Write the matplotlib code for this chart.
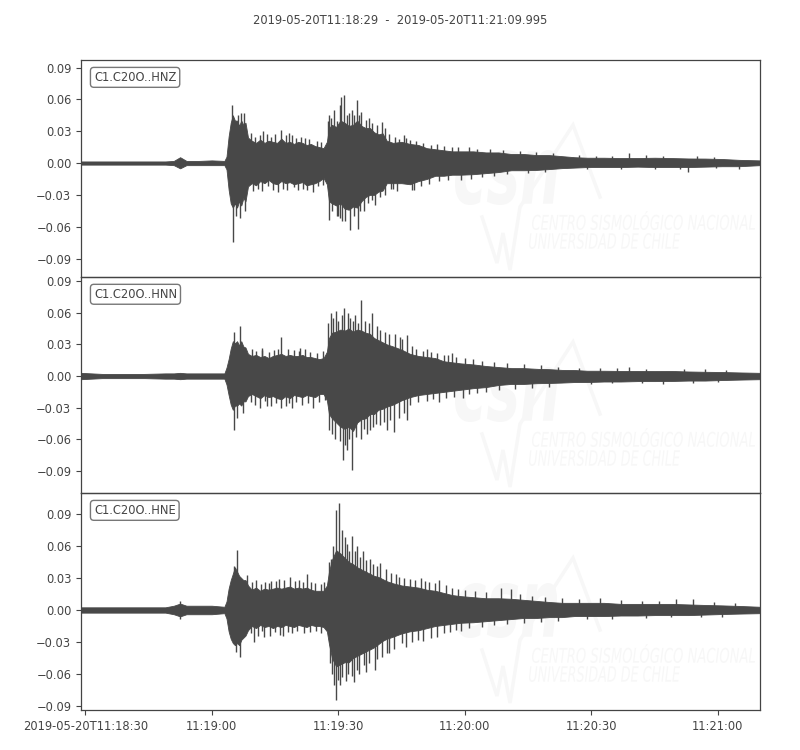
import numpy as np
import matplotlib
matplotlib.use("Agg")
import matplotlib.pyplot as plt
from matplotlib.textpath import TextPath
from matplotlib.font_manager import FontProperties
from matplotlib.patches import PathPatch
from matplotlib.path import Path

# ---------------- data ----------------
title = "2019-05-20T11:18:29  -  2019-05-20T11:21:09.995"
channels = ["C1.C20O..HNZ", "C1.C20O..HNN", "C1.C20O..HNE"]
duration = 160.995  # seconds after 11:18:29
xtick_secs = [1, 31, 61, 91, 121, 151]
xtick_labels = ["2019-05-20T11:18:30", "11:19:00", "11:19:30",
                "11:20:00", "11:20:30", "11:21:00"]
ytick_vals = [-0.09, -0.06, -0.03, 0.0, 0.03, 0.06, 0.09]
ylims = [(-0.1074, 0.0971), (-0.1108, 0.0938), (-0.0938, 0.1097)]

# envelope sample times (s after 11:18:29)
env_t = [0, 5, 10, 15, 20, 22, 23.5, 25, 28, 31, 34,
         34.5, 35, 35.5, 36, 36.5, 37, 37.5, 38, 38.5, 39, 39.6,
         40.5, 41.5, 42.5, 43.5, 44.5, 45.5, 46.5, 47.5, 48.5, 49.5,
         50.5, 51.5, 52.5, 53.5, 54.5, 55.5, 56.5, 57.5,
         58.3, 58.8,
         59.5, 60.5, 61.5, 62.5, 63.5, 64.5, 65.5, 66.5, 67.5, 68.5,
         69.5, 70.5, 71.5, 72.5,
         74, 76, 78, 80, 82, 84, 86, 88, 90,
         93, 96, 99, 102, 105, 108, 111, 114, 117, 120,
         124, 128, 132, 136, 140, 144, 148, 152, 156,
         161]

hnz_up = [0.0015, 0.0015, 0.0015, 0.0015, 0.0015, 0.002, 0.0055, 0.002, 0.002, 0.0025, 0.002,
          0.006, 0.025, 0.038, 0.045, 0.04, 0.04, 0.035, 0.04, 0.036, 0.038, 0.024,
          0.021, 0.019, 0.022, 0.019, 0.021, 0.02, 0.019, 0.023, 0.019, 0.02,
          0.018, 0.02, 0.019, 0.017, 0.018, 0.016, 0.015, 0.014,
          0.02, 0.033,
          0.036, 0.034, 0.04, 0.038, 0.035, 0.036, 0.04, 0.035, 0.033, 0.033,
          0.029, 0.027, 0.028, 0.021,
          0.019, 0.02, 0.018, 0.017, 0.014, 0.013, 0.012, 0.011, 0.011,
          0.011, 0.01, 0.01, 0.0085, 0.0085, 0.0075, 0.0075, 0.0065, 0.0055, 0.005,
          0.005, 0.0047, 0.0047, 0.005, 0.0047, 0.0043, 0.0042, 0.0038, 0.003,
          0.0025]
hnz_lo = [-0.0015, -0.0015, -0.0015, -0.0015, -0.0015, -0.002, -0.005, -0.002, -0.002, -0.002, -0.002,
          -0.006, -0.025, -0.038, -0.042, -0.038, -0.042, -0.036, -0.04, -0.033, -0.036, -0.022,
          -0.019, -0.021, -0.017, -0.019, -0.016, -0.019, -0.02, -0.017, -0.019, -0.018,
          -0.02, -0.019, -0.018, -0.021, -0.02, -0.019, -0.017, -0.014,
          -0.02, -0.036,
          -0.038, -0.04, -0.038, -0.043, -0.044, -0.041, -0.042, -0.036, -0.032, -0.03,
          -0.03, -0.027, -0.026, -0.019,
          -0.019, -0.019, -0.02, -0.017, -0.015, -0.012, -0.012, -0.011, -0.011,
          -0.0105, -0.0095, -0.0085, -0.0068, -0.0068, -0.0065, -0.0057, -0.0048, -0.0043, -0.0038,
          -0.0038, -0.0038, -0.0034, -0.0038, -0.0038, -0.0038, -0.0034, -0.003, -0.003,
          -0.002]

hnn_up = [0.003, 0.002, 0.002, 0.002, 0.0025, 0.0025, 0.003, 0.0025, 0.0025, 0.0025, 0.0025,
          0.008, 0.016, 0.026, 0.033, 0.031, 0.033, 0.029, 0.033, 0.028, 0.027, 0.021,
          0.019, 0.02, 0.018, 0.019, 0.017, 0.019, 0.02, 0.021, 0.019, 0.02,
          0.019, 0.019, 0.02, 0.018, 0.018, 0.017, 0.016, 0.017,
          0.023, 0.036,
          0.041, 0.042, 0.044, 0.043, 0.045, 0.042, 0.044, 0.043, 0.041, 0.04,
          0.036, 0.034, 0.032, 0.03,
          0.028, 0.025, 0.021, 0.019, 0.018, 0.017, 0.014, 0.013, 0.012,
          0.011, 0.0095, 0.0085, 0.0075, 0.0075, 0.0068, 0.0065, 0.0058, 0.0057, 0.005,
          0.005, 0.0048, 0.0048, 0.0047, 0.0048, 0.0043, 0.004, 0.0038, 0.0034,
          0.003]
hnn_lo = [-0.003, -0.002, -0.002, -0.002, -0.0025, -0.0025, -0.003, -0.0025, -0.0025, -0.0025, -0.0025,
          -0.008, -0.018, -0.027, -0.032, -0.028, -0.028, -0.026, -0.028, -0.024, -0.024, -0.019,
          -0.017, -0.019, -0.021, -0.018, -0.02, -0.019, -0.021, -0.022, -0.019, -0.021,
          -0.018, -0.019, -0.02, -0.018, -0.019, -0.02, -0.017, -0.017,
          -0.023, -0.036,
          -0.04, -0.044, -0.048, -0.05, -0.048, -0.052, -0.044, -0.041, -0.04, -0.036,
          -0.036, -0.032, -0.031, -0.029,
          -0.027, -0.023, -0.02, -0.018, -0.017, -0.016, -0.015, -0.014, -0.013,
          -0.0115, -0.0105, -0.0085, -0.0075, -0.0075, -0.0068, -0.0066, -0.0062, -0.0057, -0.0057,
          -0.0052, -0.0052, -0.0048, -0.0048, -0.0047, -0.0043, -0.0043, -0.0038, -0.0034,
          -0.003]

hne_up = [0.0025, 0.0025, 0.0025, 0.0025, 0.0025, 0.004, 0.006, 0.004, 0.004, 0.004, 0.003,
          0.008, 0.02, 0.028, 0.034, 0.04, 0.036, 0.032, 0.03, 0.028, 0.028, 0.023,
          0.019, 0.021, 0.018, 0.02, 0.019, 0.02, 0.021, 0.02, 0.021, 0.022,
          0.02, 0.021, 0.02, 0.021, 0.019, 0.018, 0.018, 0.018,
          0.023, 0.036,
          0.047, 0.056, 0.053, 0.049, 0.045, 0.043, 0.04, 0.038, 0.036, 0.034,
          0.032, 0.031, 0.029, 0.027,
          0.025, 0.023, 0.022, 0.021, 0.019, 0.018, 0.016, 0.014, 0.013,
          0.012, 0.011, 0.011, 0.0105, 0.0095, 0.0085, 0.0075, 0.0067, 0.0067, 0.0067,
          0.0067, 0.0057, 0.0057, 0.0057, 0.0057, 0.0052, 0.0047, 0.0043, 0.0038,
          0.003]
hne_lo = [-0.0025, -0.0025, -0.0025, -0.0025, -0.0025, -0.004, -0.006, -0.004, -0.004, -0.004, -0.003,
          -0.008, -0.02, -0.027, -0.031, -0.033, -0.031, -0.033, -0.028, -0.026, -0.024, -0.019,
          -0.015, -0.017, -0.014, -0.016, -0.015, -0.017, -0.015, -0.016, -0.014, -0.015,
          -0.016, -0.014, -0.015, -0.016, -0.014, -0.015, -0.015, -0.016,
          -0.02, -0.032,
          -0.045, -0.053, -0.051, -0.049, -0.049, -0.045, -0.043, -0.041, -0.039, -0.037,
          -0.035, -0.032, -0.029, -0.027,
          -0.025, -0.022, -0.02, -0.019, -0.017, -0.015, -0.014, -0.013, -0.012,
          -0.0115, -0.0105, -0.0095, -0.0085, -0.0075, -0.0075, -0.0067, -0.0067, -0.0057, -0.0057,
          -0.0057, -0.0052, -0.0052, -0.0048, -0.0048, -0.0048, -0.0043, -0.0038, -0.0034,
          -0.003]

# individual peaks (time, amplitude)
hnz_spk_t = [35.9, 36.0, 37.3, 38.0, 38.6, 36.8, 37.8, 38.9, 44.0, 47.5, 50.0,
             45.5, 51.5, 54.9, 58.9, 58.9, 60.0, 61.0, 61.7, 62.0, 62.3, 63.0,
             63.9, 64.3, 65.5, 65.6, 66.5, 67.0, 68.4, 69.7, 71.4, 74.0, 77.0,
             79.0, 130.0, 144.0, 156.0,
             40.3, 41.2, 42.4, 43.2, 45.0, 46.0, 48.6, 49.4, 51.0, 52.2, 53.0, 54.0, 56.0, 57.0,
             40.8, 42.0, 43.0, 44.4, 46.6, 47.8, 48.8, 50.4, 52.6, 53.6, 56.2, 57.4,
             58.6, 59.3, 60.6, 61.3, 63.6, 64.8, 66.0, 67.6, 69.0, 70.2, 72.0,
             59.5, 60.8, 61.5, 62.6, 64.8, 66.2, 68.0, 69.0, 70.8, 72.0,
             73.0, 74.5, 75.5, 76.5, 78.0, 79.5, 81.0, 83.0, 84.5, 86.0, 88.0, 89.5,
             92.0, 94.0, 97.0, 100.0, 104.0, 108.0, 112.0,
             73.5, 75.0, 78.5, 80.5, 82.5, 85.0, 87.0, 90.0, 92.5, 95.0, 98.0, 101.0, 106.0, 110.0,
             118.0, 122.0, 126.0, 134.0, 138.0, 146.0, 150.0,
             120.0, 128.0, 136.0, 142.0, 150.5]
hnz_spk_v = [0.0547, -0.074, 0.045, 0.047, 0.047, -0.05, -0.052, -0.045, 0.027, 0.031, 0.026,
             -0.025, -0.025, -0.027, 0.045, -0.054, 0.05, -0.05, 0.0625, -0.055, 0.064, 0.045,
             -0.063, 0.05, 0.059, -0.062, 0.048, -0.045, 0.042, -0.04, 0.039, -0.024, 0.024,
             -0.025, 0.009, -0.008, -0.006,
             0.028, 0.025, 0.026, 0.03, 0.025, 0.027, 0.026, 0.028, 0.024, 0.025, 0.024, 0.023, 0.021, 0.02,
             -0.026, -0.024, -0.026, -0.022, -0.027, -0.024, -0.025, -0.023, -0.024, -0.025, -0.022, -0.021,
             0.04, 0.042, 0.04, 0.055, 0.047, 0.045, 0.045, 0.041, 0.038, 0.036, 0.033,
             -0.045, -0.05, -0.052, -0.055, -0.05, -0.045, -0.038, -0.035, -0.032, -0.03,
             0.027, 0.025, 0.023, 0.026, 0.022, 0.021, 0.019, 0.017, 0.018, 0.016, 0.015, 0.015,
             0.015, 0.013, 0.013, 0.012, 0.011, 0.01, 0.009,
             -0.024, -0.026, -0.025, -0.022, -0.02, -0.017, -0.016, -0.016, -0.015, -0.013, -0.012, -0.01, -0.009, -0.008,
             0.008, 0.007, 0.007, 0.0075, 0.007, 0.0065, 0.006,
             -0.006, -0.006, -0.006, -0.006, -0.005]

hnn_spk_t = [36.3, 37.8, 36.2, 37.0, 38.3, 43.0, 47.5, 52.0, 44.0, 47.5, 50.0, 55.0,
             59.3, 60.5, 62.3, 63.2, 65.0, 66.4, 69.0, 71.0, 72.0, 74.5, 77.4,
             58.9, 62.1, 63.0, 64.3, 66.4, 68.6, 70.0, 72.5, 74.1, 77.4,
             82.0, 88.0, 85.0, 90.5, 130.0, 138.0,
             40.5, 41.6, 42.8, 44.5, 45.8, 46.8, 49.0, 50.6, 51.6, 53.0, 54.2, 56.0, 57.3,
             40.2, 41.3, 42.5, 43.6, 45.0, 46.3, 48.5, 49.4, 51.0, 52.5, 53.8, 56.5, 57.8,
             58.6, 59.8, 61.0, 61.8, 63.8, 64.6, 65.6, 67.4, 68.2, 70.3, 73.0, 75.6, 76.2,
             59.5, 60.3, 61.4, 62.6, 63.6, 65.2, 67.0, 67.8, 69.2, 71.0, 71.8, 73.2, 75.5, 76.5,
             78.5, 79.5, 81.0, 83.0, 84.5, 86.0, 87.0, 89.0, 91.0, 93.0, 95.0, 98.0, 101.0, 105.0, 109.0, 113.0,
             78.0, 80.0, 82.0, 83.5, 86.5, 88.5, 92.0, 94.0, 96.0, 99.0, 103.0, 107.0, 111.0,
             118.0, 123.0, 127.0, 134.0, 143.0, 148.0, 153.0,
             121.0, 126.0, 133.0, 145.0, 151.0]
hnn_spk_v = [0.042, 0.047, -0.051, -0.04, -0.035, 0.027, 0.037, 0.027, -0.028, -0.03, -0.03, -0.03,
             0.06, 0.062, 0.064, 0.06, 0.058, 0.072, 0.06, 0.044, 0.042, 0.04, 0.039,
             -0.051, -0.08, -0.07, -0.089, -0.06, -0.051, -0.045, -0.051, -0.053, -0.042,
             0.026, 0.022, -0.025, -0.021, 0.009, -0.008,
             0.026, 0.024, 0.025, 0.023, 0.025, 0.026, 0.026, 0.025, 0.024, 0.026, 0.023, 0.022, 0.024,
             -0.025, -0.027, -0.03, -0.024, -0.028, -0.026, -0.028, -0.026, -0.025, -0.027, -0.026, -0.025, -0.023,
             0.05, 0.055, 0.052, 0.058, 0.055, 0.052, 0.05, 0.052, 0.05, 0.047, 0.04, 0.037, 0.035,
             -0.055, -0.06, -0.062, -0.065, -0.06, -0.058, -0.05, -0.055, -0.048, -0.046, -0.044, -0.042, -0.04, -0.035,
             0.028, 0.026, 0.024, 0.023, 0.022, 0.02, 0.02, 0.018, 0.017, 0.016, 0.014, 0.013, 0.012, 0.011, 0.01, 0.009,
             -0.027, -0.025, -0.024, -0.022, -0.021, -0.02, -0.017, -0.016, -0.015, -0.013, -0.012, -0.011, -0.01,
             0.008, 0.0075, 0.0075, 0.007, 0.007, 0.0065, 0.006,
             -0.0075, -0.007, -0.007, -0.0065, -0.006]

hne_spk_t = [23.5, 23.5, 36.2, 36.9, 39.3, 36.7, 37.6, 45.0, 47.0, 49.5, 53.6,
             41.0, 43.5, 48.0, 59.3, 60.5, 61.1, 61.8, 62.5, 64.2, 65.5, 66.8,
             68.5, 71.0, 60.0, 60.5, 61.5, 62.8, 64.8, 66.0, 67.5, 69.6,
             73.0, 77.0, 75.5, 80.5, 85.0, 86.5, 86.0, 90.0, 99.5, 102.0,
             123.0, 141.0, 145.0,
             40.5, 41.5, 42.6, 43.7, 44.5, 46.2, 48.2, 50.8, 51.8, 52.6, 54.5, 55.5, 56.8, 57.6,
             40.2, 42.0, 42.8, 44.8, 46.0, 47.2, 49.0, 50.0, 51.2, 52.8, 54.2, 55.8, 57.0,
             58.7, 59.8, 63.0, 63.6, 65.0, 66.2, 67.6, 69.3, 70.2, 72.2, 73.6, 74.6,
             59.0, 59.6, 61.0, 62.0, 63.3, 64.2, 65.5, 67.0, 68.4, 70.3, 71.4, 72.5, 74.2,
             76.5, 78.0, 79.2, 81.5, 82.5, 84.0, 88.0, 89.5, 91.0, 93.5, 96.0, 104.0, 107.0, 110.0, 114.0, 118.0,
             76.0, 78.5, 80.0, 81.0, 83.0, 84.5, 87.5, 89.0, 92.0, 95.0, 98.0, 101.0, 105.0, 109.0, 113.0,
             128.0, 133.0, 137.0, 150.0, 155.0,
             120.0, 126.0, 134.0, 140.0, 147.0, 152.0]
hne_spk_v = [0.0084, -0.008, 0.041, 0.056, 0.033, -0.039, -0.044, 0.027, 0.029, 0.031, 0.034,
             -0.03, -0.025, -0.024, 0.048, 0.094, 0.1, 0.075, 0.068, 0.069, 0.06, 0.055,
             0.048, 0.044, -0.07, -0.084, -0.07, -0.067, -0.068, -0.06, -0.058, -0.056,
             -0.04, -0.035, 0.031, 0.03, 0.028, 0.023, -0.022, -0.02, 0.021, 0.02,
             0.011, 0.01, 0.01,
             0.026, 0.028, 0.024, 0.026, 0.025, 0.027, 0.028, 0.027, 0.028, 0.026, 0.026, 0.025, 0.024, 0.026,
             -0.022, -0.024, -0.02, -0.024, -0.021, -0.023, -0.021, -0.022, -0.02, -0.022, -0.021, -0.02, -0.022,
             0.045, 0.06, 0.062, 0.055, 0.055, 0.05, 0.047, 0.043, 0.041, 0.038, 0.035, 0.034,
             -0.05, -0.06, -0.066, -0.063, -0.06, -0.062, -0.056, -0.052, -0.05, -0.046, -0.044, -0.04, -0.037,
             0.03, 0.029, 0.028, 0.027, 0.026, 0.025, 0.021, 0.02, 0.019, 0.018, 0.017, 0.015, 0.013, 0.012, 0.011, 0.01,
             -0.031, -0.03, -0.028, -0.029, -0.026, -0.025, -0.021, -0.019, -0.017, -0.016, -0.014, -0.013, -0.012, -0.011, -0.01,
             0.009, 0.0085, 0.008, 0.0075, 0.007,
             -0.008, -0.008, -0.0075, -0.007, -0.007, -0.0065]

traces = [
    (hnz_up, hnz_lo, hnz_spk_t, hnz_spk_v),
    (hnn_up, hnn_lo, hnn_spk_t, hnn_spk_v),
    (hne_up, hne_lo, hne_spk_t, hne_spk_v),
]

# ---------------- style ----------------
W, H = 800, 750
wave_c = "#484848"
text_c = "#444444"
wm_c = "#f7f7f7"
fs = 8.3

fig = plt.figure(figsize=(W / 100, H / 100), dpi=100)
fig.patch.set_facecolor("white")

ax_left, ax_right = 81, 760
panel_px = [(60, 277), (277, 493), (493, 710)]


def fitted_text(ax, s, box, prop):
    """Text path scaled into a box given in axes fractions (x0, y0, x1, y1)."""
    tp = TextPath((0, 0), s, size=10, prop=prop)
    v = tp.vertices.copy()
    ext = tp.get_extents()
    x0, y0, x1, y1 = box
    v[:, 0] = x0 + (v[:, 0] - ext.x0) / ext.width * (x1 - x0)
    v[:, 1] = y0 + (v[:, 1] - ext.y0) / ext.height * (y1 - y0)
    p = PathPatch(Path(v, tp.codes), transform=ax.transAxes, fc=wm_c,
                  ec="none", zorder=0)
    ax.add_patch(p)


for i, (top, bot) in enumerate(panel_px):
    ax = fig.add_axes([ax_left / W, 1 - bot / H, (ax_right - ax_left) / W,
                       (bot - top) / H])
    pw, ph = ax_right - ax_left, bot - top

    def a(x, y):
        return ((x - ax_left) / pw, 1 - (y - 60) / ph)

    # faint watermark (positions measured relative to the top panel)
    bold_it = FontProperties(family="DejaVu Sans", weight="bold", style="italic")
    light_it = FontProperties(family="DejaVu Sans", style="italic")
    fitted_text(ax, "csn", (*a(455, 205), *a(557, 150)), bold_it)
    fitted_text(ax, "CENTRO SISMOLÓGICO NACIONAL", (*a(532, 230), *a(755, 211)), light_it)
    fitted_text(ax, "UNIVERSIDAD DE CHILE", (*a(529, 249), *a(680, 233)), light_it)
    wpts = [a(482, 217), a(497, 263), a(503, 233), a(510, 270), a(520, 207),
            a(573, 125), a(600, 197)]
    ax.plot([p[0] for p in wpts], [p[1] for p in wpts], transform=ax.transAxes,
            color=wm_c, lw=2.5, zorder=0, solid_joinstyle="miter")

    up, lo, st, sv = traces[i]
    ax.fill_between(env_t, lo, up, color=wave_c, lw=0.6, zorder=2)
    ax.vlines(st, 0, sv, color=wave_c, lw=1.0, zorder=2)

    ax.set_xlim(0, duration)
    ax.set_ylim(*ylims[i])
    ax.set_yticks(ytick_vals)
    ax.set_yticklabels([("%.2f" % v).replace("-", "\u2212") if abs(v) > 1e-9 else "0.00"
                        for v in ytick_vals])
    ax.set_xticks(xtick_secs)
    if i < 2:
        ax.tick_params(axis="x", bottom=False, labelbottom=False)
    else:
        ax.set_xticklabels(xtick_labels)
    ax.tick_params(colors=text_c, labelcolor=text_c, labelsize=fs, length=3.5, width=0.8)
    for sp in ax.spines.values():
        sp.set_color(text_c)
        sp.set_linewidth(0.9)
    ax.set_facecolor("none")
    ax.text(0.019, 0.92, channels[i], transform=ax.transAxes, ha="left", va="center",
            fontsize=fs, color=text_c, zorder=5,
            bbox=dict(boxstyle="round,pad=0.3", fc="white", ec="#777777", lw=1.0))

fig.text(0.5, 1 - 20 / H, title, ha="center", va="center", fontsize=fs, color=text_c)

fig.savefig("out.png", dpi=100, facecolor="white")
